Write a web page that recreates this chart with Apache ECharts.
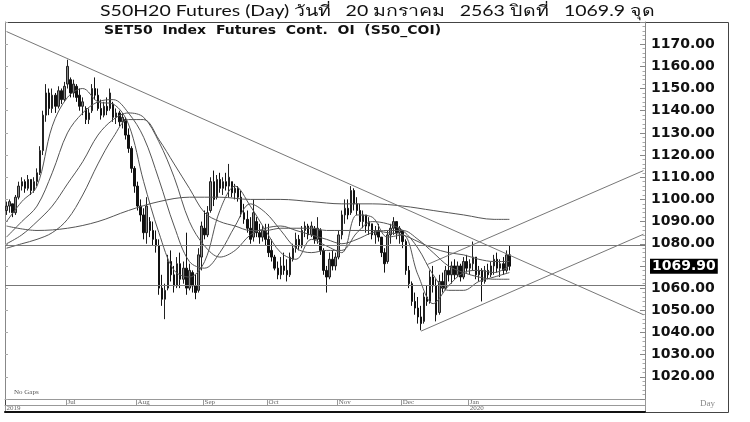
<!DOCTYPE html>
<html><head><meta charset="utf-8">
<script src="https://cdn.jsdelivr.net/npm/echarts@6/dist/echarts.min.js"></script>
<style>html,body{margin:0;padding:0;background:#fff}#c{width:750px;height:422px}</style>
</head><body><div id="c"></div><script>
// ---- data ----
const startDate = [2019, 5, 3];   // first trading day shown (Jun 3, 2019)
const totalSlots = 210;           // trading-day slots on the x axis (incl. empty future)
const monthLabels = ['Jul','Aug','Sep','Oct','Nov','Dec','Jan'];
const yearLabels = ['2019','2020'];
const titleText = 'S50H20 Futures (Day) วันที่   20 มกราคม   2563 ปิดที่   1069.9 จุด';
const subTitleText = 'SET50  Index  Futures  Cont.  OI  (S50_COI)';
const openVals = [1095,1097,1098,1094,1101,1106,1108,1105,1109,1104,1108,1112,1122,1138,1148,1141,1147,1142,1149,1145,
1152,1154,1148,1151,1147,1142,1141,1136,1140,1150,1147,1141,1138,1142,1141,1143,1137,1139,1135,1136,
1129,1123,1114,1106,1097,1093,1085,1090,1086,1082,1079,1060,1055,1060,1072,1066,1061,1071,1064,1069,
1060,1067,1061,1059,1074,1087,1084,1095,1108,1101,1109,1105,1108,1106,1108,1103,1105,1101,1094,1091,
1087,1083,1090,1085,1083,1086,1082,1077,1074,1069,1066,1070,1068,1066,1073,1078,1082,1079,1086,1088,
1084,1087,1082,1086,1077,1068,1065,1073,1070,1074,1084,1093,1096,1094,1104,1098,1095,1090,1093,1088,
1089,1084,1086,1083,1076,1072,1084,1087,1090,1085,1086,1081,1068,1062,1054,1051,1047,1045,1056,1054,
1065,1061,1049,1063,1060,1068,1066,1070,1066,1070,1065,1072,1069,1071,1074,1066,1068,1063,1068,1066,
1070,1073,1069,1071,1068,1075];
const closeVals = [1097,1099,1094,1101,1106,1108,1105,1109,1104,1108,1112,1122,1138,1148,1141,1147,1142,1149,1145,1151,
1160,1148,1152,1146,1142,1144,1136,1139,1150,1147,1141,1138,1142,1140,1148,1137,1139,1135,1137,1129,
1123,1114,1106,1097,1093,1085,1097,1086,1082,1079,1060,1055,1059,1072,1066,1061,1071,1064,1069,1060,
1068,1061,1058,1075,1088,1084,1094,1108,1100,1109,1105,1108,1106,1110,1103,1105,1101,1094,1091,1087,
1082,1094,1085,1083,1086,1082,1076,1074,1069,1066,1070,1068,1066,1074,1078,1082,1079,1086,1088,1084,
1088,1082,1087,1077,1068,1065,1073,1070,1074,1084,1093,1096,1093,1104,1098,1095,1090,1093,1088,1090,
1084,1086,1083,1076,1071,1084,1087,1090,1085,1087,1081,1068,1062,1054,1051,1047,1044,1056,1054,1065,
1061,1048,1063,1060,1068,1066,1070,1066,1070,1065,1072,1069,1071,1074,1066,1068,1063,1068,1066,1070,
1073,1069,1071,1068,1075,1069.9];
const lowVals = [1093,1094,1092,1093,1100,1104,1103,1104,1102,1103,1106,1111,1120,1135,1138,1139,1139,1141,1143,1144,
1150,1146,1146,1144,1140,1138,1134,1134,1139,1145,1140,1136,1137,1138,1140,1135,1134,1133,1132,1127,
1121,1112,1103,1095,1090,1082,1080,1083,1079,1076,1057,1052,1046,1059,1063,1058,1060,1060,1062,1057,
1059,1058,1055,1058,1068,1082,1083,1094,1097,1100,1103,1102,1104,1101,1101,1100,1099,1092,1089,1085,
1080,1081,1083,1080,1081,1079,1074,1072,1068,1064,1064,1066,1063,1065,1072,1076,1077,1078,1083,1082,
1083,1080,1080,1075,1066,1058,1064,1068,1068,1073,1082,1089,1091,1093,1095,1093,1088,1087,1085,1084,
1082,1080,1081,1074,1067,1071,1080,1084,1082,1080,1078,1066,1060,1052,1048,1044,1041,1044,1052,1053,
1058,1045,1048,1058,1059,1063,1062,1064,1065,1063,1064,1067,1066,1068,1064,1063,1054,1062,1064,1065,
1066,1067,1065,1066,1067,1068];
const highVals = [1099,1100,1098,1102,1108,1110,1109,1111,1109,1110,1114,1124,1140,1152,1150,1150,1148,1151,1150,1153,
1163,1155,1154,1152,1150,1146,1142,1141,1152,1155,1150,1145,1144,1146,1150,1144,1141,1140,1139,1137,
1132,1124,1115,1108,1100,1096,1101,1092,1090,1086,1082,1066,1062,1075,1077,1070,1074,1076,1072,1085,
1071,1068,1066,1078,1090,1095,1097,1110,1113,1111,1112,1110,1112,1116,1108,1107,1106,1104,1098,1095,
1092,1100,1092,1089,1088,1089,1089,1082,1075,1072,1074,1076,1073,1076,1080,1085,1084,1088,1090,1089,
1090,1088,1092,1087,1078,1070,1076,1077,1076,1086,1095,1100,1100,1106,1105,1101,1098,1095,1093,1092,
1089,1088,1089,1083,1078,1086,1089,1092,1090,1088,1086,1082,1070,1063,1058,1056,1052,1058,1061,1068,
1070,1064,1066,1067,1070,1079,1072,1073,1072,1071,1074,1075,1073,1081,1074,1070,1069,1070,1071,1072,
1075,1076,1073,1074,1077,1079];
// moving averages: [bar index, value]
const maFast = [[0,1090],[5,1099],[10,1106],[15,1133],[20,1146],[25,1150],[30,1144],[35,1143],[40,1134],[45,1108],
[50,1085],[55,1068],[60,1065],[65,1072],[70,1095],[75,1106],[80,1097],[85,1086],[90,1076],[95,1073],[100,1082],
[105,1079],[110,1076],[115,1093],[120,1092],[125,1083],[130,1084],[135,1066],[140,1053],[145,1061],[150,1067],
[155,1068],[160,1067],[165,1070]];
const maMid = [[0,1083],[5,1090],[10,1097],[15,1112],[20,1130],[25,1139],[30,1144],[35,1145],[40,1139],[45,1128],
[50,1109],[55,1088],[60,1072],[65,1069],[70,1076],[75,1088],[80,1098],[85,1094],[90,1086],[95,1078],[100,1076],
[105,1077],[110,1077],[115,1085],[120,1090],[125,1089],[130,1086],[135,1078],[140,1066],[145,1059],[150,1059],
[155,1063],[160,1065],[165,1067]];
const maSlow = [[0,1080],[5,1084],[10,1090],[15,1097],[20,1107],[25,1117],[30,1129],[35,1136],[40,1139],[45,1137],
[50,1126],[55,1110],[60,1090],[65,1079],[70,1074],[75,1077],[80,1084],[85,1087],[90,1088],[95,1086],[100,1084],
[105,1082],[110,1080],[115,1082],[120,1085],[125,1086],[130,1086],[135,1082],[140,1076],[145,1070],[150,1067],
[155,1065],[160,1064],[165,1064]];
const maLong = [[0,1078],[5,1080],[10,1082],[15,1085],[20,1091],[25,1102],[30,1116],[35,1128],[40,1136],[45,1136],
[50,1127],[55,1116],[60,1105],[65,1094],[70,1090],[75,1088],[80,1086],[85,1086],[90,1087],[95,1087],[100,1087],
[105,1086],[110,1086],[115,1086],[120,1086],[125,1085],[130,1084],[135,1081],[140,1078],[145,1076],[150,1075],
[155,1073],[160,1072],[165,1072]];
const ma200 = [[0,1088],[10,1086],[20,1087],[30,1090],[40,1095],[50,1099],[60,1101],[70,1101],[80,1100],[90,1100],
[100,1099],[110,1098],[120,1098],[130,1097],[140,1095],[150,1093],[160,1091],[165,1091]];
// trend lines: [startIndex, startValue, endIndex, endValue]
const trendLines = [[0,1175.7,209,1048.0],[138,1070.6,209,1113.0],[136,1040.6,209,1084.3]];
const levelLines = [1079.3, 1061.2];
const lastClose = 1069.9;
const yMin = 1010, yMax = 1180, yStep = 10;

// ---- build ----
const dates = [];
{ const d = new Date(Date.UTC(startDate[0], startDate[1], startDate[2]));
  while (dates.length < totalSlots) { const w = d.getUTCDay(); if (w > 0 && w < 6) dates.push(d.toISOString().slice(0,10)); d.setUTCDate(d.getUTCDate()+1); } }
const monthStart = {}; let mi = 0;
for (let i = 1; i < dates.length && mi < monthLabels.length; i++) {
  if (dates[i].slice(5,7) !== dates[i-1].slice(5,7)) { monthStart[i] = monthLabels[mi++]; }
}
const yearStart = {0: yearLabels[0]};
for (let i = 1; i < dates.length; i++) if (dates[i].slice(0,4) !== dates[i-1].slice(0,4)) { yearStart[i] = yearLabels[1]; break; }
const candles = openVals.map((o,i) => [o, closeVals[i], lowVals[i], highVals[i]]);

const gridTop = 22, gridH = 377;
const serif = 'Liberation Serif';
const lineGray = '#777';
const axisFont = {fontFamily:'DejaVu Sans', fontWeight:'bold', fontSize:14};
const maStyle = {type:'line', smooth:0.35, showSymbol:false, silent:true, lineStyle:{color:'#555', width:1}, xAxisIndex:0, yAxisIndex:0};

const markData = trendLines.map(t => [{coord:[t[0], t[1]]}, {coord:[t[2], t[3]]}])
  .concat(levelLines.map(v => [{coord:[0, v], x:5}, {coord:[totalSlots-1, v], x:645}]));

const chart = echarts.init(document.getElementById('c'));
chart.setOption({
  animation:false,
  backgroundColor:'#fff',
  grid:{left:5, right:105, top:gridTop, height:gridH},
  xAxis:[
    {type:'category', data:dates, boundaryGap:true,
     axisLine:{lineStyle:{color:'#999', width:1}},
     axisTick:{show:true, interval:(i)=>monthStart[i]!==undefined, length:6, lineStyle:{color:'#999'}},
     axisLabel:{interval:(i)=>monthStart[i]!==undefined, formatter:(v,i)=>monthStart[i]||'', align:'left', margin:0,
       fontSize:7, fontFamily:serif, color:'#666'},
     splitLine:{show:false}},
    {type:'category', data:dates, boundaryGap:true, position:'bottom', offset:6,
     axisLine:{lineStyle:{color:'#999', width:1}},
     axisTick:{show:true, interval:(i)=>yearStart[i]!==undefined && i>0, length:6, lineStyle:{color:'#999'}},
     axisLabel:{interval:(i)=>yearStart[i]!==undefined, formatter:(v,i)=>yearStart[i]||'', align:'left', margin:0,
       fontSize:7, fontFamily:serif, color:'#666'},
     splitLine:{show:false}},
    {type:'category', data:dates, boundaryGap:true, position:'bottom', offset:13,
     axisLine:{lineStyle:{color:'#111', width:2}}, axisTick:{show:false}, axisLabel:{show:false}, splitLine:{show:false}}
  ],
  yAxis:[
    {type:'value', position:'right', min:yMin, max:yMax, interval:yStep,
     axisLine:{show:true, lineStyle:{color:'#888'}},
     axisTick:{show:true, inside:true, length:5, lineStyle:{color:'#888'}},
     minorTick:{show:true, splitNumber:5, length:2.5, lineStyle:{color:'#aaa'}},
     splitLine:{show:false},
     axisLabel:Object.assign({margin:6, color:'#111',
       formatter:(v)=> (v>=1020 && v<=1170 && v!==1070) ? v.toFixed(2) : ''}, axisFont)},
    {type:'value', position:'left', min:yMin, max:yMax, interval:yStep,
     axisLine:{show:true, lineStyle:{color:'#888'}},
     axisTick:{show:true, inside:true, length:3, lineStyle:{color:'#aaa'}},
     axisLabel:{show:false}, splitLine:{show:false}}
  ],
  series:[
    {type:'candlestick', data:candles, barWidth:2, xAxisIndex:0, yAxisIndex:0, silent:true,
     itemStyle:{color:'#888', color0:'#111', borderColor:'#222', borderColor0:'#111', borderWidth:1},
     markLine:{silent:true, symbol:['none','none'], animation:false,
       lineStyle:{color:lineGray, width:1, type:'solid'}, label:{show:false},
       data: markData}},
    {type:'line', name:'lastClose', data:[], xAxisIndex:0, yAxisIndex:0, silent:true,
     markLine:{silent:true, symbol:['none','none'], animation:false,
       lineStyle:{color:'rgba(0,0,0,0)', width:1},
       label:Object.assign({show:true, position:'end', distance:5, formatter:lastClose.toFixed(2), backgroundColor:'#000', color:'#fff',
         padding:[1,2,0,2]}, axisFont),
       data:[{yAxis:lastClose}]}},
    Object.assign({name:'maFast', data:maFast}, maStyle),
    Object.assign({name:'maMid', data:maMid}, maStyle),
    Object.assign({name:'maSlow', data:maSlow}, maStyle),
    Object.assign({name:'maLong', data:maLong}, maStyle),
    Object.assign({name:'ma200', data:ma200}, maStyle)
  ],
  graphic:[
    {type:'rect', silent:true, shape:{x:5.5, y:22.5, width:723, height:390}, style:{fill:'none', stroke:'#444', lineWidth:1}},
    {type:'line', silent:true, shape:{x1:645.5, y1:399, x2:645.5, y2:413}, style:{stroke:'#888', lineWidth:1}},
    {type:'text', silent:true, x:100, y:4, scaleX:1.3, style:{text:titleText, font:'15px Lato', fill:'#111'}},
    {type:'text', silent:true, x:104, y:24, scaleX:1.12, style:{text:subTitleText, font:'bold 12.5px "DejaVu Sans"', fill:'#111'}},
    {type:'text', silent:true, left:14, top:389, style:{text:'No Gaps', font:'7px "Liberation Serif"', fill:'#555'}},
    {type:'text', silent:true, left:700, top:399, style:{text:'Day', font:'9px "Liberation Serif"', fill:'#888'}}
  ]
});
</script></body></html>
